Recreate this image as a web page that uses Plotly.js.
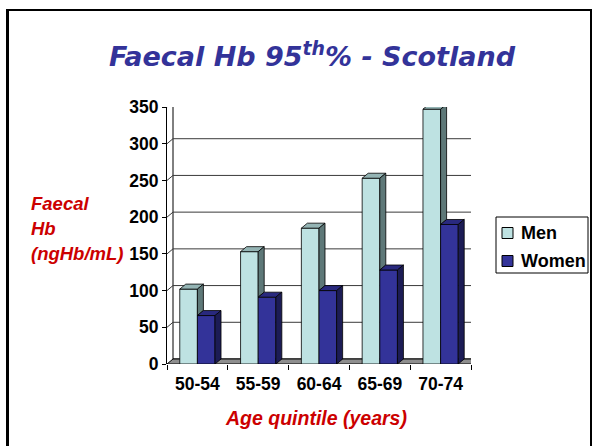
<!DOCTYPE html>
<html>
<head>
<meta charset="utf-8">
<script src="https://cdn.plot.ly/plotly-3.0.1.min.js"></script>
<style>
  html, body { margin: 0; padding: 0; background: #ffffff; }
  #chart { position: absolute; left: 0; top: 0; width: 596px; height: 446px; }
  #frame { position: absolute; left: 6px; top: 9px; width: 581px; height: 460px;
           border: 2px solid #000; border-left-width: 3px; pointer-events: none; }
</style>
</head>
<body>
<div id="chart"></div>
<div id="frame"></div>
<script>
// ---- data ----
const categories = ['50-54', '55-59', '60-64', '65-69', '70-74'];
const men = [102, 153, 185, 253, 347];
const women = [66, 91, 100, 128, 190];
const seriesNames = ['Men', 'Women'];
const yTickValues = [0, 50, 100, 150, 200, 250, 300, 350];
const titleText = 'Faecal Hb 95<sup>th</sup>% - Scotland';
const yTitleLines = ['Faecal', 'Hb', '(ngHb/mL)'];
const xTitleText = 'Age quintile (years)';

// ---- styling / geometry ----
const W = 596, H = 446;
const M = { l: 167, r: 125, t: 107, b: 82 };
const plotW = W - M.l - M.r, plotH = H - M.t - M.b;
const yMax = 350;
const bargap = 0.42;
const bw = (1 - bargap) / 2;
const pxPerCat = plotW / categories.length;
const pxPerUnit = plotH / yMax;
const dx = 6 / pxPerCat;   // depth offset (category units)
const dy = 5 / pxPerUnit;  // depth offset (value units)
const x0 = -0.5, x1 = categories.length - 0.5;

const menColors = { front: '#BEE2E2', top: '#94B4B4', side: '#5E7878' };
const womenColors = { front: '#333399', top: '#29297E', side: '#1C1C55' };
const seriesColors = [menColors, womenColors];
const red = '#CC0000';
const edge = { color: '#000', width: 0.8 };
const font = 'Liberation Sans, Arial, sans-serif';

const pxToPaperX = px => (px - M.l) / plotW;
const pxToPaperY = py => (H - M.b - py) / plotH;

function path(pts, close) {
  return 'M' + pts.map(p => p[0] + ',' + p[1]).join('L') + (close === false ? '' : 'Z');
}
function face(pts, fill, layer) {
  return { type: 'path', xref: 'x', yref: 'y', path: path(pts), fillcolor: fill,
           line: edge, layer: layer || 'above' };
}

const shapes = [];
// back wall
shapes.push({ type: 'path', xref: 'x', yref: 'y', layer: 'below',
  path: path([[x0 + dx, dy], [x1 + dx, dy], [x1 + dx, yMax + dy], [x0 + dx, yMax + dy]]),
  fillcolor: '#ffffff', line: { color: '#000', width: 1 } });
// gridlines on side wall + back wall
yTickValues.slice(1, -1).forEach(v => {
  shapes.push({ type: 'path', xref: 'x', yref: 'y', layer: 'below',
    path: path([[x0, v], [x0 + dx, v + dy], [x1 + dx, v + dy]], false),
    line: { color: '#3a3a3a', width: 1 } });
});
// side wall top edge
shapes.push({ type: 'path', xref: 'x', yref: 'y', layer: 'below',
  path: path([[x0, yMax], [x0 + dx, yMax + dy]], false), line: { color: '#000', width: 1 } });
// floor
shapes.push({ type: 'path', xref: 'x', yref: 'y', layer: 'below',
  path: path([[x0, 0], [x1, 0], [x1 + dx, dy], [x0 + dx, dy]]),
  fillcolor: '#8E8E8E', line: { color: '#000', width: 1 } });

// 3D faces of bars (top + side), men first then women so women occlude men
categories.forEach((c, i) => {
  const m = men[i], w = women[i];
  const mxl = i - bw, mxr = i;
  const wxl = i, wxr = i + bw;
  shapes.push(face([[mxl, m], [mxr, m], [mxr + dx, m + dy], [mxl + dx, m + dy]], menColors.top));
  if (m > w) {
    shapes.push(face([[mxr, w], [mxr, m], [mxr + dx, m + dy], [mxr + dx, w + dy]], menColors.side));
  }
  shapes.push(face([[wxl, w], [wxr, w], [wxr + dx, w + dy], [wxl + dx, w + dy]], womenColors.top));
  shapes.push(face([[wxr, 0], [wxr, w], [wxr + dx, w + dy], [wxr + dx, dy]], womenColors.side));
});

// legend (box, swatches, labels)
const legendBox = { l: 496, r: 588, t: 217, b: 273 };
const legendRows = [233, 261];
shapes.push({ type: 'rect', xref: 'paper', yref: 'paper', layer: 'above',
  x0: pxToPaperX(legendBox.l), x1: pxToPaperX(legendBox.r),
  y0: pxToPaperY(legendBox.b), y1: pxToPaperY(legendBox.t),
  fillcolor: '#ffffff', line: { color: '#000', width: 1 } });
const annotations = [];
seriesNames.forEach((name, k) => {
  const cy = legendRows[k];
  shapes.push({ type: 'rect', xref: 'paper', yref: 'paper', layer: 'above',
    x0: pxToPaperX(502), x1: pxToPaperX(513), y0: pxToPaperY(cy + 5.5), y1: pxToPaperY(cy - 5.5),
    fillcolor: seriesColors[k].front, line: { color: '#000', width: 1 } });
  annotations.push({ text: name, xref: 'paper', yref: 'paper', x: pxToPaperX(519), y: pxToPaperY(cy),
    xanchor: 'left', yanchor: 'middle', showarrow: false,
    font: { family: font, size: 18, color: '#000', weight: 'bold' } });
});

yTitleLines.forEach((t, k) => annotations.push({
  text: t, xref: 'paper', yref: 'paper', x: pxToPaperX(29), y: pxToPaperY([203, 228, 253][k]),
  xanchor: 'left', yanchor: 'middle', showarrow: false,
  font: { family: font, size: 18.5, color: red, weight: 'bold', style: 'italic' }
}));
annotations.push({
  text: xTitleText, xref: 'paper', yref: 'paper', x: pxToPaperX(315.5), y: pxToPaperY(418),
  xanchor: 'center', yanchor: 'middle', showarrow: false,
  font: { family: font, size: 19.5, color: red, weight: 'bold', style: 'italic' }
});

const traces = [
  { type: 'bar', name: seriesNames[0], x: categories, y: men, showlegend: false,
    marker: { color: menColors.front, line: edge }, hoverinfo: 'x+y+name' },
  { type: 'bar', name: seriesNames[1], x: categories, y: women, showlegend: false,
    marker: { color: womenColors.front, line: edge }, hoverinfo: 'x+y+name' }
];

const layout = {
  width: W, height: H,
  margin: { l: M.l, r: M.r, t: M.t, b: M.b, pad: 0, autoexpand: false },
  paper_bgcolor: '#ffffff', plot_bgcolor: 'rgba(0,0,0,0)',
  title: { text: titleText, xref: 'container', yref: 'container', x: 312 / W, y: 1 - 57 / H,
           xanchor: 'center', yanchor: 'middle',
           font: { family: 'DejaVu Sans, sans-serif', size: 27, color: '#333399', weight: 'bold', style: 'italic' } },
  barmode: 'group', bargap: bargap, bargroupgap: 0,
  showlegend: false,
  xaxis: { type: 'category', range: [x0, x1], showgrid: false, zeroline: false, showline: false,
           ticks: 'outside', tickson: 'boundaries', ticklen: 5, tickcolor: '#000', tickwidth: 1,
           ticklabelstandoff: 7, automargin: false,
           tickfont: { family: font, size: 17.5, color: '#000', weight: 'bold' }, fixedrange: true },
  yaxis: { range: [0, yMax], tickvals: yTickValues, showgrid: false, zeroline: false,
           showline: true, linecolor: '#000', linewidth: 1, ticks: 'outside', ticklen: 4,
           automargin: false,
           tickcolor: '#000', tickfont: { family: font, size: 17.5, color: '#000', weight: 'bold' },
           fixedrange: true },
  shapes: shapes,
  annotations: annotations
};

Plotly.newPlot('chart', traces, layout, { displayModeBar: false, staticPlot: true });
</script>
</body>
</html>
